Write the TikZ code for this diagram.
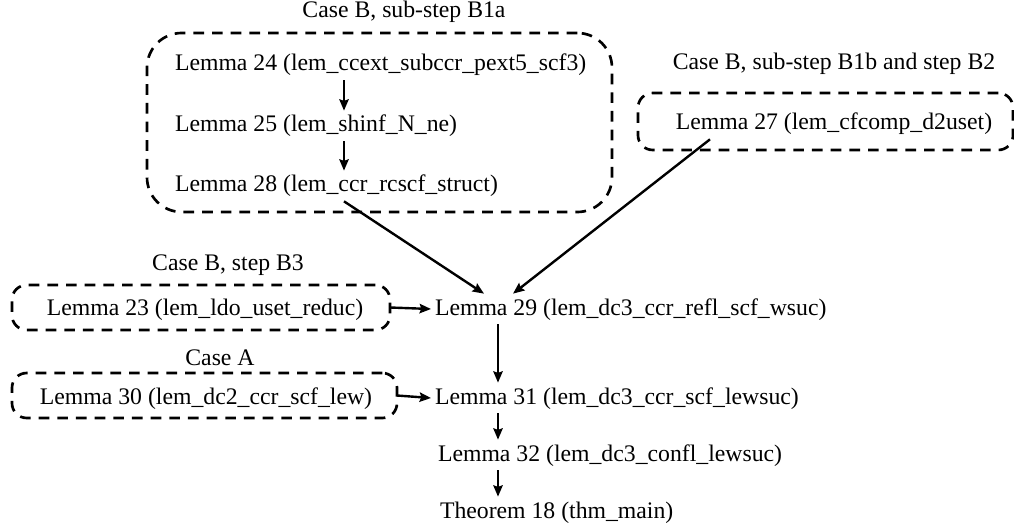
\documentclass[tikz,border=0pt]{standalone}
\usepackage{fontspec}
\setmainfont{Liberation Serif}
\usetikzlibrary{arrows.meta}
\begin{document}
\begin{tikzpicture}[x=0.75pt,y=-0.75pt,
  every node/.style={font=\fontsize{17.8}{21}\selectfont, text height=13pt, text depth=4pt},
  lem/.style={inner sep=0pt, outer sep=3pt},
  cluster/.style={draw, line width=2pt, dash pattern=on 8pt off 6pt, inner sep=0pt, outer sep=0pt,
    text height=, text depth=},
  clustertitle/.style={inner sep=0pt},
  arr/.style={line width=1.8pt, -{Stealth[length=8.5pt,width=7pt,inset=1.2pt]}}]
\useasboundingbox (0,0) rectangle (1014,531);

% cluster frames
\node[cluster, minimum width=465*0.75pt, minimum height=179*0.75pt, rounded corners=26pt] (cB1a) at (379.5,122.5) {};
\node[cluster, minimum width=375*0.75pt, minimum height=57*0.75pt, rounded corners=11pt] (cB2) at (825.5,121.5) {};
\node[cluster, minimum width=378*0.75pt, minimum height=45*0.75pt, rounded corners=11pt] (cB3) at (201,307.5) {};
\node[cluster, minimum width=385*0.75pt, minimum height=45*0.75pt, rounded corners=11pt] (cA) at (204.5,395.5) {};

% cluster captions
\node[clustertitle] (tB1a) at (404,12) {Case B, sub-step B1a};
\node[clustertitle] (tB2) at (834,64) {Case B, sub-step B1b and step B2};
\node[clustertitle] (tB3) at (228,264) {Case B, step B3};
\node[clustertitle] (tA) at (220,359) {Case A};

% statements
\node[lem, anchor=west] (l24) at (171,65) {Lemma 24 (lem\_ccext\_subccr\_pext5\_scf3)};
\node[lem, anchor=west] (l25) at (171,126) {Lemma 25 (lem\_shinf\_N\_ne)};
\node[lem, anchor=west] (l28) at (171,186) {Lemma 28 (lem\_ccr\_rcscf\_struct)};
\node[lem] (l27) at (834,124) {Lemma 27 (lem\_cfcomp\_d2uset)};
\node[lem] (l23) at (205,309) {Lemma 23 (lem\_ldo\_uset\_reduc)};
\node[lem] (l30) at (206,398) {Lemma 30 (lem\_dc2\_ccr\_scf\_lew)};
\node[lem, anchor=west] (l29) at (431,309) {Lemma 29 (lem\_dc3\_ccr\_refl\_scf\_wsuc)};
\node[lem, anchor=west] (l31) at (431,398) {Lemma 31 (lem\_dc3\_ccr\_scf\_lewsuc)};
\node[lem, anchor=west] (l32) at (434,455) {Lemma 32 (lem\_dc3\_confl\_lewsuc)};
\node[lem, anchor=west] (t18) at (436,512) {Theorem 18 (thm\_main)};

% arrow columns
\coordinate (colB) at (344,0);
\coordinate (colM) at (498,0);
\coordinate (in28) at (484,0);
\coordinate (in27) at (513,0);
\coordinate (out27) at (710,0);

% dependencies
\draw[arr] (l24.south -| colB) -- (l25.north -| colB);
\draw[arr] (l25.south -| colB) -- (l28.north -| colB);
\draw[arr] (l28.south -| colB) -- (l29.north -| in28);
\draw[arr] (l27.south -| out27) -- (l29.north -| in27);
\draw[arr] (cB3.east) -- (l29.west);
\draw[arr] (l29.south -| colM) -- (l31.north -| colM);
\draw[arr] (cA.east) -- (l31.west);
\draw[arr] (l31.south -| colM) -- (l32.north -| colM);
\draw[arr] (l32.south -| colM) -- (t18.north -| colM);
\end{tikzpicture}
\end{document}
